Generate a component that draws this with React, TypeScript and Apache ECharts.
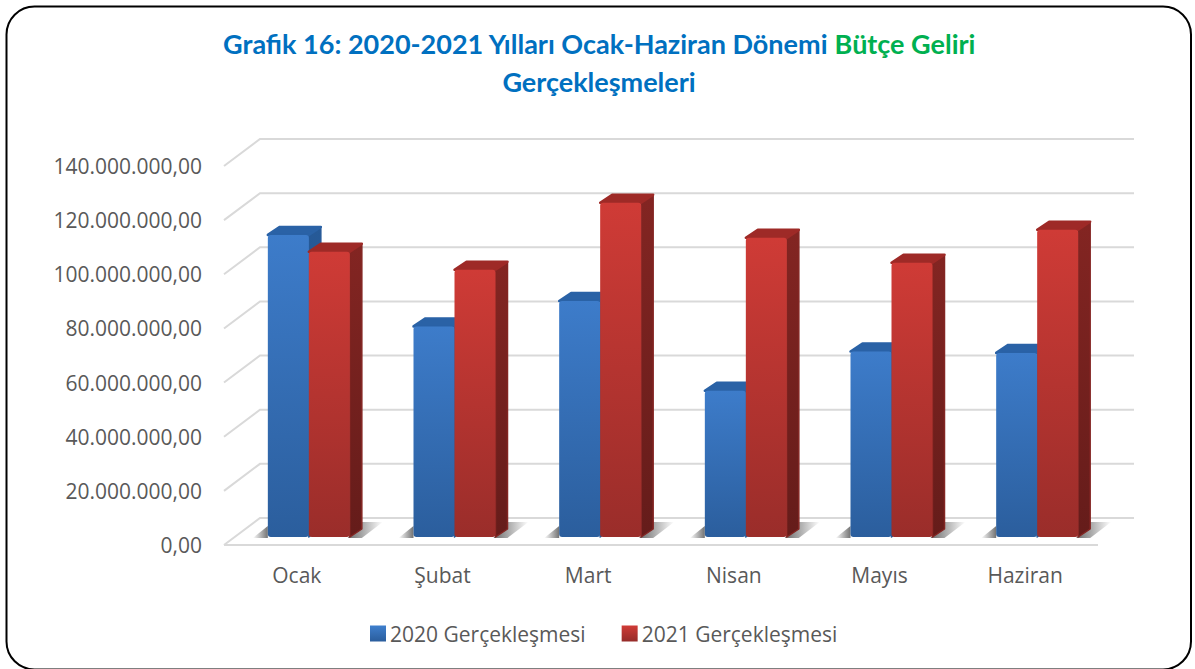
import React, { useEffect, useRef } from "react";
import * as echarts from "echarts";

const months = ["Ocak", "Şubat", "Mart", "Nisan", "Mayıs", "Haziran"];
const values2020 = [111600000, 77800000, 87200000, 54000000, 68500000, 68000000];
const values2021 = [105400000, 98700000, 123500000, 110500000, 101300000, 113500000];
const gridValues = [0, 20000000, 40000000, 60000000, 80000000, 100000000, 120000000, 140000000];

const FONT = "'Open Sans'";
const DEPTH_X = 36;
const DEPTH_Y = 27;
const BAR_DX = -29;
const BAR_DY = 8;
const BAR_W = 41;
const SIDE_X = 12;
const SIDE_Y = 8;

const vGrad = (a: string, b: string) =>
  new echarts.graphic.LinearGradient(0, 0, 0, 1, [
    { offset: 0, color: a },
    { offset: 1, color: b },
  ]);
const hGrad = (a: string, b: string) =>
  new echarts.graphic.LinearGradient(0, 0, 1, 0, [
    { offset: 0, color: a },
    { offset: 1, color: b },
  ]);

const formatTick = (v: number) =>
  v === 0 ? "0,00" : v.toString().replace(/\B(?=(\d{3})+(?!\d))/g, ".") + ",00";

function barRender(slot: number, front: [string, string], side: [string, string], top: string) {
  return (_params: any, api: any) => {
    const idx = api.value(0);
    const base = api.coord([idx, 0]);
    const head = api.coord([idx, api.value(1)]);
    const x0 = base[0] + BAR_DX + slot * BAR_W;
    const x1 = x0 + BAR_W;
    const yB = base[1] - BAR_DY;
    const yT = head[1] - BAR_DY;
    return {
      type: "group",
      children: [
        {
          type: "polygon",
          shape: { points: [[x1, yT], [x1 + SIDE_X, yT - SIDE_Y], [x1 + SIDE_X, yB - SIDE_Y], [x1, yB]] },
          style: { fill: vGrad(side[0], side[1]), stroke: side[0], lineWidth: 1.5, lineJoin: "round" },
        },
        {
          type: "polygon",
          shape: { points: [[x0, yT], [x0 + SIDE_X, yT - SIDE_Y], [x1 + SIDE_X, yT - SIDE_Y], [x1, yT]] },
          style: { fill: top, stroke: top, lineWidth: 2.5, lineJoin: "round" },
        },
        {
          type: "rect",
          shape: { x: x0, y: yT, width: BAR_W, height: yB - yT, r: 3 },
          style: { fill: vGrad(front[0], front[1]) },
        },
      ],
    };
  };
}

export default function App() {
  const ref = useRef<HTMLDivElement>(null);
  useEffect(() => {
    document.body.style.margin = "0";
    const chart = echarts.init(ref.current!, undefined, { renderer: "svg" });
    chart.setOption({
      animation: false,
      backgroundColor: "#ffffff",
      title: {
        left: 594,
        top: 19,
        textAlign: "center",
        text: "{b|Grafik 16: 2020-2021 Yılları Ocak-Haziran Dönemi }{g|Bütçe Geliri}\n{b|Gerçekleşmeleri}",
        textStyle: {
          rich: {
            b: { fontFamily: "Lato", fontWeight: "bold", fontSize: 27, color: "#0070c0", lineHeight: 38 },
            g: { fontFamily: "Lato", fontWeight: "bold", fontSize: 27, color: "#00b050", lineHeight: 38 },
          },
        },
      },
      grid: { left: 224, top: 166, width: 874, height: 379, containLabel: false },
      xAxis: {
        type: "category",
        data: months,
        axisLine: { show: false },
        axisTick: { show: false },
        axisLabel: { color: "#595959", fontFamily: FONT, fontSize: 21, margin: 19 },
      },
      yAxis: {
        type: "value",
        min: 0,
        max: 140000000,
        interval: 20000000,
        axisLine: { show: false },
        axisTick: { show: false },
        splitLine: { show: false },
        axisLabel: { color: "#595959", fontFamily: FONT, fontSize: 21, margin: 22, formatter: formatTick },
      },
      legend: {
        left: 365,
        top: 618,
        itemWidth: 16,
        itemHeight: 16,
        itemGap: 36,
        icon: "rect",
        data: ["2020 Gerçekleşmesi", "2021 Gerçekleşmesi"],
        textStyle: { color: "#595959", fontFamily: FONT, fontSize: 21, padding: [0, 0, 0, -1] },
      },
      series: [
        {
          type: "custom",
          name: "walls",
          silent: true,
          data: gridValues.map((v) => [0, v]),
          encode: { x: 0, y: 1 },
          renderItem: (params: any, api: any) => {
            const y = api.coord([0, api.value(1)])[1];
            const cs = params.coordSys;
            const isFloor = api.value(1) === 0;
            const style = { stroke: "#d9d9d9", lineWidth: 2, fill: "none" };
            const children: any[] = [
              {
                type: "polyline",
                shape: { points: [[cs.x, y], [cs.x + DEPTH_X, y - DEPTH_Y], [cs.x + cs.width + DEPTH_X, y - DEPTH_Y]] },
                style,
              },
            ];
            if (isFloor) {
              children.push({
                type: "line",
                shape: { x1: cs.x, y1: y, x2: cs.x + cs.width, y2: y },
                style,
              });
            }
            return { type: "group", children };
          },
          z: 1,
        },
        {
          type: "custom",
          name: "shadow",
          silent: true,
          data: months.map((_m, i) => [i, 0]),
          encode: { x: 0, y: 1 },
          renderItem: (_params: any, api: any) => {
            const base = api.coord([api.value(0), 0]);
            const x0 = base[0] + BAR_DX;
            const x1 = x0 + 2 * BAR_W;
            const yB = base[1] - BAR_DY;
            return {
              type: "group",
              children: [
                {
                  type: "polygon",
                  shape: { points: [[x0 - 15, yB + 1], [x0, yB - 11], [x0, yB + 1]] },
                  style: { fill: hGrad("rgba(90,90,90,0)", "rgba(90,90,90,0.85)") },
                },
                {
                  type: "polygon",
                  shape: { points: [[x1 - 2, yB + 1], [x1 + SIDE_X, yB - 15], [x1 + 33, yB - 15], [x1 + 12, yB + 1]] },
                  style: { fill: hGrad("rgba(90,90,90,0.9)", "rgba(90,90,90,0)") },
                },
              ],
            };
          },
          z: 2,
        },
        {
          type: "custom",
          name: "2020 Gerçekleşmesi",
          data: values2020.map((v, i) => [i, v]),
          encode: { x: 0, y: 1 },
          itemStyle: { color: vGrad("#3f7fcd", "#2a5d9c") },
          renderItem: barRender(0, ["#3d7cca", "#2b5e9d"], ["#265a98", "#1f4a7c"], "#2a62a6"),
          z: 3,
        },
        {
          type: "custom",
          name: "2021 Gerçekleşmesi",
          data: values2021.map((v, i) => [i, v]),
          encode: { x: 0, y: 1 },
          itemStyle: { color: vGrad("#d03b36", "#952b29") },
          renderItem: barRender(1, ["#cf3b36", "#9a2d2a"], ["#832522", "#651c1a"], "#9e2a27"),
          z: 4,
        },
      ],
      graphic: [
        {
          type: "rect",
          shape: { x: 6.5, y: 6.5, width: 1184.5, height: 663, r: 28 },
          style: { fill: "none", stroke: "#000000", lineWidth: 2 },
          silent: true,
          z: 10,
        },
      ],
    });
    return () => chart.dispose();
  }, []);
  return <div ref={ref} style={{ position: "absolute", left: 0, top: 0, width: 1195, height: 669 }} />;
}
